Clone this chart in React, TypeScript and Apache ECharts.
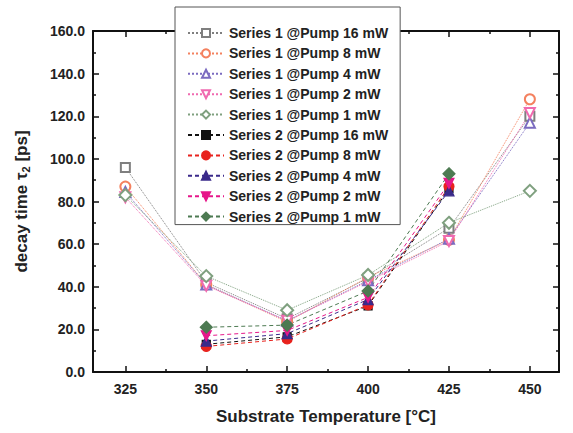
import React, { useEffect, useRef } from "react";
import * as echarts from "echarts";

const temps1 = [325, 350, 375, 400, 425, 450];
const temps2 = [350, 375, 400, 425];

const s1_16 = [96, 42, 25, 44, 67.5, 120];
const s1_8 = [87, 41, 23.5, 44.5, 62, 128];
const s1_4 = [84.5, 41, 24, 43, 62.5, 117];
const s1_2 = [82, 40.5, 24, 42.5, 61.5, 121.5];
const s1_1 = [83, 45, 29, 45.5, 70, 85];

const s2_16 = [13, 16.5, 31, 86];
const s2_8 = [12, 15.5, 31.5, 87];
const s2_4 = [14.5, 18, 34, 85];
const s2_2 = [17, 19.5, 35, 88.5];
const s2_1 = [21, 22, 38, 93];

const xMajor = [325, 350, 375, 400, 425, 450];
const xMinor = [337.5, 362.5, 387.5, 412.5, 437.5];

const FONT = "'Liberation Sans', Arial, Helvetica, sans-serif";

type Def = {
  name: string;
  xs: number[];
  ys: number[];
  color: string;
  symbol: string;
  rotate?: number;
  size: number;
  dash: any;
};

const defs: Def[] = [
  { name: "Series 1 @Pump 16 mW", xs: temps1, ys: s1_16, color: "#7f7f7f", symbol: "emptyRect", size: 9, dash: "dotted" },
  { name: "Series 1 @Pump 8 mW", xs: temps1, ys: s1_8, color: "#f4815f", symbol: "emptyCircle", size: 10, dash: "dotted" },
  { name: "Series 1 @Pump 4 mW", xs: temps1, ys: s1_4, color: "#7b6bc0", symbol: "emptyTriangle", size: 10, dash: "dotted" },
  { name: "Series 1 @Pump 2 mW", xs: temps1, ys: s1_2, color: "#f06ab0", symbol: "emptyTriangle", rotate: 180, size: 10, dash: "dotted" },
  { name: "Series 1 @Pump 1 mW", xs: temps1, ys: s1_1, color: "#7fa07f", symbol: "emptyDiamond", size: 12, dash: "dotted" },
  { name: "Series 2 @Pump 16 mW", xs: temps2, ys: s2_16, color: "#111111", symbol: "rect", size: 8, dash: [4, 3] },
  { name: "Series 2 @Pump 8 mW", xs: temps2, ys: s2_8, color: "#e8231e", symbol: "circle", size: 10, dash: [4, 3] },
  { name: "Series 2 @Pump 4 mW", xs: temps2, ys: s2_4, color: "#3a2a8a", symbol: "triangle", size: 10, dash: [4, 3] },
  { name: "Series 2 @Pump 2 mW", xs: temps2, ys: s2_2, color: "#e6178a", symbol: "triangle", rotate: 180, size: 10, dash: [4, 3] },
  { name: "Series 2 @Pump 1 mW", xs: temps2, ys: s2_1, color: "#4d7a52", symbol: "diamond", size: 12, dash: [4, 3] },
];

export default function App() {
  const ref = useRef<HTMLDivElement>(null);
  useEffect(() => {
    if (!ref.current) return;
    const chart = echarts.init(ref.current, undefined, { renderer: "svg" });
    const axisLine = { show: true, lineStyle: { color: "#111", width: 2 } };
    const xBase = { type: "value", min: 315, max: 459, gridIndex: 0, splitLine: { show: false } };
    const option: any = {
      animation: false,
      backgroundColor: "#ffffff",
      grid: { left: 93, right: 14, top: 31, bottom: 61, containLabel: false },
      xAxis: [
        {
          ...xBase,
          position: "bottom",
          axisLine,
          axisTick: { show: true, inside: true, length: 6, customValues: xMajor, lineStyle: { color: "#111", width: 1.5 } },
          axisLabel: {
            show: true,
            customValues: xMajor,
            margin: 10,
            fontSize: 14,
            fontWeight: "bold",
            color: "#222",
            fontFamily: FONT,
          },
          name: "Substrate Temperature [°C]",
          nameLocation: "middle",
          nameGap: 36,
          nameTextStyle: { fontSize: 17, fontWeight: "bold", color: "#222", fontFamily: FONT },
        },
        {
          ...xBase,
          position: "bottom",
          axisLine: { show: false },
          axisTick: { show: true, inside: true, length: 3, customValues: xMinor, lineStyle: { color: "#111", width: 1.5 } },
          axisLabel: { show: false },
        },
        {
          ...xBase,
          position: "top",
          axisLine,
          axisTick: { show: true, inside: true, length: 6, customValues: xMajor, lineStyle: { color: "#111", width: 1.5 } },
          axisLabel: { show: false },
        },
        {
          ...xBase,
          position: "top",
          axisLine: { show: false },
          axisTick: { show: true, inside: true, length: 3, customValues: xMinor, lineStyle: { color: "#111", width: 1.5 } },
          axisLabel: { show: false },
        },
      ],
      yAxis: [
        {
          type: "value",
          min: 0,
          max: 160,
          interval: 20,
          position: "left",
          axisLine,
          splitLine: { show: false },
          axisTick: { show: true, inside: true, length: 6, lineStyle: { color: "#111", width: 1.5 } },
          minorTick: { show: true, splitNumber: 2, length: 3, lineStyle: { color: "#111", width: 1.5 } },
          axisLabel: {
            formatter: (v: number) => v.toFixed(1),
            margin: 8,
            fontSize: 14,
            fontWeight: "bold",
            color: "#222",
            fontFamily: FONT,
          },
          name: "decay time τ{sub|2} [ps]",
          nameLocation: "middle",
          nameGap: 62,
          nameRotate: 90,
          nameTextStyle: {
            fontSize: 17,
            fontWeight: "bold",
            color: "#222",
            fontFamily: FONT,
            rich: {
              sub: { fontSize: 11, color: "#222", fontFamily: FONT, verticalAlign: "bottom", padding: [8, 0, 0, 0] },
            },
          },
        },
        {
          type: "value",
          min: 0,
          max: 160,
          interval: 20,
          position: "right",
          axisLine,
          splitLine: { show: false },
          axisTick: { show: true, inside: true, length: 6, lineStyle: { color: "#111", width: 1.5 } },
          minorTick: { show: true, splitNumber: 2, length: 3, lineStyle: { color: "#111", width: 1.5 } },
          axisLabel: { show: false },
        },
      ],
      legend: {
        orient: "vertical",
        left: 175,
        top: 7,
        backgroundColor: "#ffffff",
        borderColor: "#555",
        borderWidth: 1,
        borderRadius: 0,
        padding: [19, 12, 1, 12],
        itemWidth: 36,
        itemHeight: 10,
        itemGap: 6.4,
        textStyle: { fontSize: 14, fontWeight: "bold", color: "#222", fontFamily: FONT },
        data: defs.map((d) => d.name),
      },
      series: defs.map((d) => ({
        name: d.name,
        type: "line",
        xAxisIndex: 0,
        yAxisIndex: 0,
        data: d.xs.map((x, i) => [x, d.ys[i]]),
        symbol: d.symbol,
        symbolSize: d.size,
        symbolRotate: d.rotate || 0,
        showAllSymbol: true,
        lineStyle: { color: d.color, width: 1, type: d.dash },
        itemStyle: { color: d.color, borderColor: d.color, borderWidth: 1.2 },
        z: 2,
      })),
    };
    chart.setOption(option);
    return () => chart.dispose();
  }, []);
  return (
    <div
      ref={ref}
      style={{ position: "fixed", left: 0, top: 0, width: 573, height: 433 }}
    />
  );
}
